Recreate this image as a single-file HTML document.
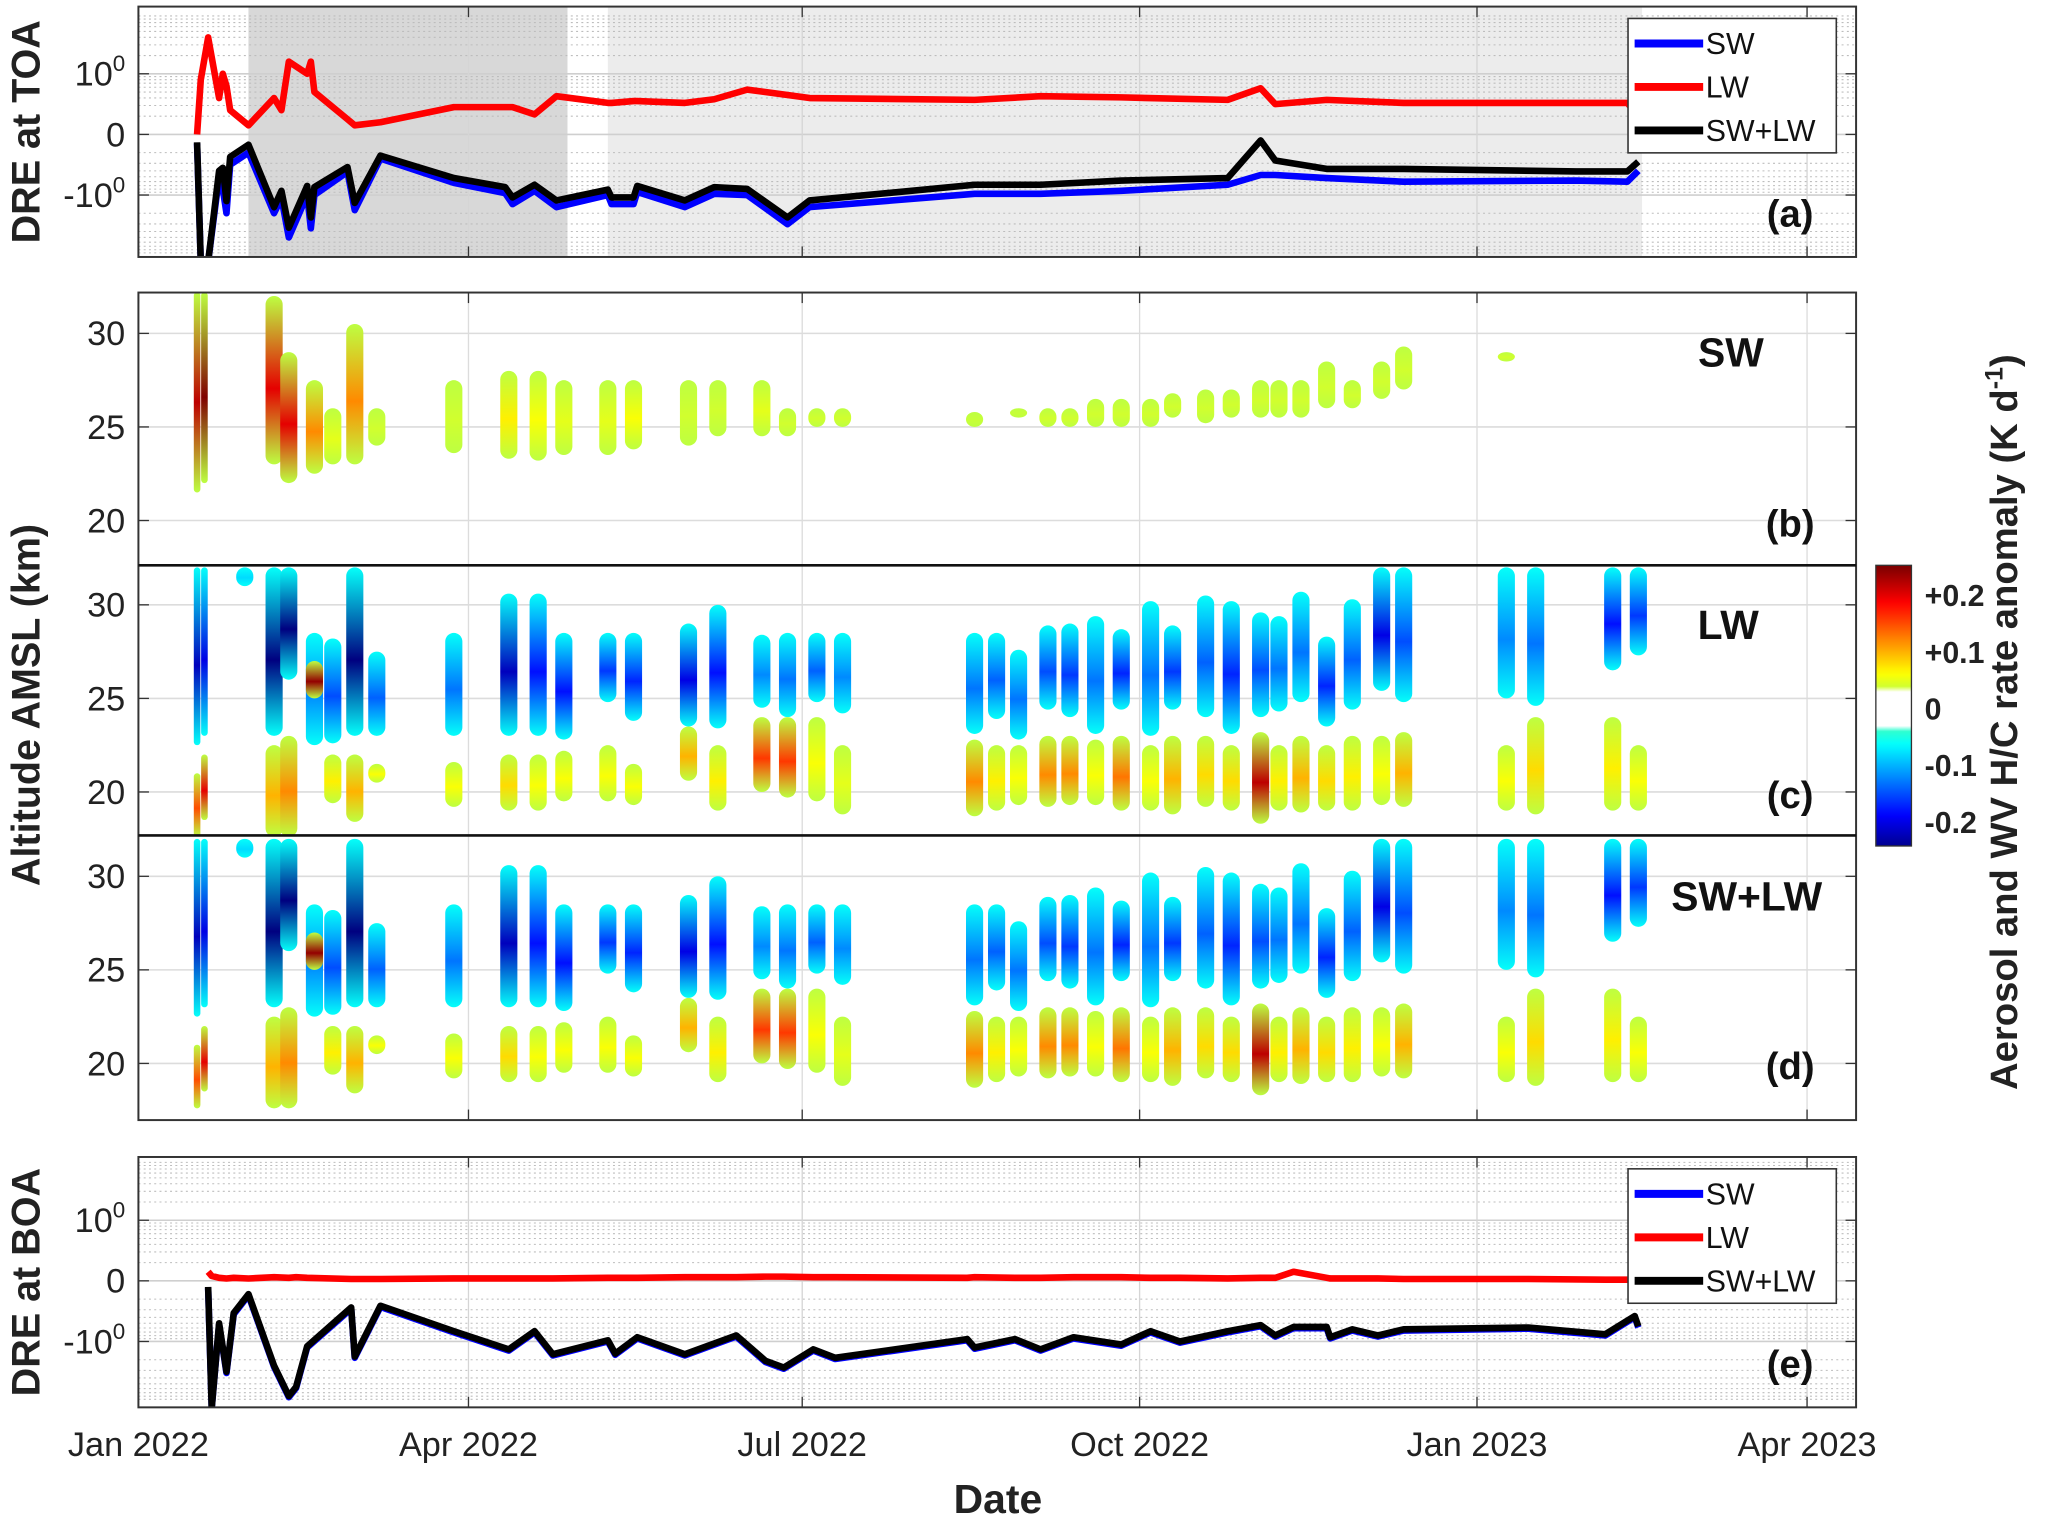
<!DOCTYPE html>
<html><head><meta charset="utf-8"><style>
html,body{margin:0;padding:0;background:#fff;}
svg{display:block;font-family:"Liberation Sans",Arial,sans-serif;}
</style></head><body>
<svg id="chart" width="2067" height="1522" viewBox="0 0 1568 1155" preserveAspectRatio="none" xmlns="http://www.w3.org/2000/svg">
<defs id="defs"></defs>
<g id="root"></g>
</svg>
<script>
// ---------- DATA ----------
const monthTickDays = [0, 90, 181, 273, 365, 455];
const monthTickLabels = ["Jan 2022","Apr 2022","Jul 2022","Oct 2022","Jan 2023","Apr 2023"];

const toaDays = [16,17,19,22,23,24,25,30,37,39,41,46,47,48,57,59,66,86,100,102,108,114,128,129,135,136,149,157,166,177,183,228,246,268,297,306,310,324,345,392,406,409];
const toaLW  = [0.0,0.9,1.6,0.6,1.0,0.8,0.4,0.15,0.6,0.4,1.2,1.0,1.2,0.7,0.25,0.15,0.2,0.45,0.45,0.45,0.33,0.63,0.52,0.52,0.55,0.55,0.52,0.58,0.74,0.65,0.6,0.57,0.63,0.61,0.57,0.76,0.5,0.57,0.52,0.52,0.52,0.3];
const toaNet = [-0.13,-2.1,-2.1,-0.6,-0.55,-1.1,-0.37,-0.17,-1.2,-0.93,-1.54,-0.85,-1.37,-0.87,-0.54,-1.13,-0.35,-0.72,-0.87,-1.04,-0.83,-1.09,-0.91,-1.04,-1.04,-0.85,-1.09,-0.87,-0.9,-1.37,-1.09,-0.83,-0.83,-0.76,-0.72,-0.1,-0.43,-0.57,-0.57,-0.61,-0.61,-0.45];
const toaSW  = [-0.15,-2.1,-2.1,-0.7,-0.9,-1.3,-0.5,-0.3,-1.3,-1.05,-1.7,-1.0,-1.55,-1.0,-0.62,-1.25,-0.4,-0.8,-0.97,-1.15,-0.93,-1.2,-1.0,-1.15,-1.15,-0.95,-1.2,-0.98,-1.0,-1.48,-1.2,-0.98,-0.98,-0.93,-0.83,-0.67,-0.67,-0.72,-0.78,-0.76,-0.78,-0.6];

const boaDays = [19,20,22,24,26,30,37,41,43,46,58,59,66,86,101,108,113,128,130,136,149,163,171,176,184,190,226,228,239,246,255,268,276,284,297,306,310,315,324,325,331,338,345,379,400,408,409];
const boaNet = [-0.1,-2.1,-0.7,-1.5,-0.53,-0.22,-1.4,-1.9,-1.75,-1.08,-0.44,-1.25,-0.41,-0.83,-1.13,-0.83,-1.21,-0.98,-1.2,-0.93,-1.21,-0.9,-1.32,-1.43,-1.13,-1.27,-0.96,-1.1,-0.96,-1.13,-0.93,-1.05,-0.83,-1.0,-0.83,-0.73,-0.9,-0.76,-0.76,-0.93,-0.8,-0.9,-0.8,-0.77,-0.88,-0.58,-0.75];
const boaSW  = [-0.12,-2.1,-0.72,-1.52,-0.55,-0.24,-1.42,-1.92,-1.77,-1.1,-0.46,-1.27,-0.43,-0.85,-1.15,-0.85,-1.23,-1.0,-1.22,-0.95,-1.23,-0.92,-1.34,-1.45,-1.15,-1.29,-0.98,-1.12,-0.98,-1.15,-0.95,-1.07,-0.85,-1.02,-0.85,-0.75,-0.92,-0.78,-0.78,-0.95,-0.82,-0.92,-0.82,-0.79,-0.9,-0.6,-0.77];
const boaLW  = [0.15,0.08,0.05,0.04,0.05,0.04,0.06,0.05,0.06,0.05,0.03,0.03,0.03,0.04,0.04,0.04,0.04,0.05,0.05,0.05,0.06,0.06,0.07,0.07,0.06,0.06,0.05,0.06,0.05,0.05,0.06,0.06,0.05,0.05,0.04,0.05,0.05,0.15,0.05,0.04,0.04,0.04,0.03,0.03,0.02,0.02,0.02];

const profDays = [16,18,29,37,41,48,53,59,65,86,101,109,116,128,135,150,158,170,177,185,192,228,234,240,248,254,261,268,276,282,291,298,306,311,317,324,331,339,345,373,381,402,409];
const upTop = [32,32,32,32,32,28.5,28.2,32,27.5,28.5,30.6,30.6,28.5,28.5,28.5,29,30,28.4,28.5,28.5,28.5,28.5,28.5,27.6,28.9,29,29.4,28.7,30.2,28.9,30.5,30.2,29.6,29.4,30.7,28.3,30.3,32,32,32,32,32,32];
const upBot = [22.5,23,31,23,26,22.5,22.6,23,23,23,23,23,22.8,24.8,23.8,23.5,23.4,24.5,24,24.8,24.2,23.1,23.9,22.8,24.4,24,23.1,24.4,23,24.4,24,23.1,24,24.3,24.8,23.5,24.4,25.4,24.8,25,24.6,26.5,27.3];
const upVal = [-0.22,-0.2,-0.08,-0.25,-0.25,-0.12,-0.15,-0.25,-0.14,-0.13,-0.22,-0.18,-0.18,-0.16,-0.17,-0.2,-0.18,-0.12,-0.13,-0.14,-0.12,-0.13,-0.14,-0.13,-0.15,-0.16,-0.13,-0.17,-0.13,-0.16,-0.14,-0.17,-0.15,-0.13,-0.13,-0.17,-0.14,-0.2,-0.15,-0.12,-0.13,-0.18,-0.16];
const loTop = [21,22,0,22.5,23,27,22,22,21.5,21.6,22,22,22.2,22.5,21.5,23.5,22.5,24,24,24,22.5,22.8,22.5,22.5,23,23,22.8,23,22.5,23,23,22.5,23.2,22.5,23,22.5,23,23,23.2,22.5,24,24,22.5];
const loBot = [17.6,18.5,0,17.6,17.6,25,19.4,18.4,20.5,19.2,19,19,19.5,19.5,19.3,20.6,19,20,19.7,19.5,18.8,18.7,19,19.3,19.2,19.3,19.3,19,19,18.8,19.2,19,18.3,19,18.9,19,19,19.3,19.2,19,18.8,19,19];
const loVal = [0.15,0.2,0,0.1,0.12,0.24,0.07,0.1,0.06,0.06,0.08,0.06,0.06,0.06,0.06,0.1,0.07,0.16,0.16,0.06,0.05,0.12,0.07,0.06,0.12,0.12,0.06,0.13,0.06,0.1,0.08,0.08,0.22,0.07,0.1,0.08,0.07,0.06,0.1,0.06,0.08,0.07,0.06];
const swTop = [32.2,32.2,0,32,29,27.5,26,30.5,26,27.5,28,28,27.5,27.5,27.5,27.5,27.5,27.5,26,26,26,25.8,0,26,26,26,26.5,26.5,26.5,26.8,27,27,27.5,27.5,27.5,28.5,27.5,28.5,29.3,29,0,0,0];
const swBot = [21.5,22,0,23,22,22.5,23,23,24,23.6,23.3,23.2,23.5,23.5,23.8,24,24.5,24.5,24.5,25,25,25,0,25.5,25,25,25,25,25,25.5,25.2,25.5,25.5,25.5,25.5,26,26,26.5,27,28.5,0,0,0];
const swVal = [0.22,0.25,0,0.2,0.2,0.12,0.05,0.12,0.04,0.04,0.07,0.06,0.05,0.05,0.06,0.04,0.04,0.05,0.04,0.04,0.04,0.035,0,0.035,0.04,0.04,0.04,0.04,0.04,0.04,0.04,0.04,0.04,0.04,0.04,0.04,0.04,0.04,0.04,0.04,0,0,0];

const cbTickVals = [0.2,0.1,0,-0.1,-0.2];
const cbTickLabels = ["+0.2","+0.1","0","-0.1","-0.2"];
const altTicks = [30,25,20];

// ---------- LAYOUT ----------
const NS = "http://www.w3.org/2000/svg";
const root = document.getElementById('root');
const defs = document.getElementById('defs');
const L = 105, R = 1408;
const X = d => L + d * 2.782;
function el(tag, attrs, parent, text){
  const e = document.createElementNS(NS, tag);
  for (const k in attrs) e.setAttribute(k, attrs[k]);
  if (text !== undefined) e.textContent = text;
  (parent || root).appendChild(e);
  return e;
}
function jet(v){
  let t = (v + 0.25) / 0.5; t = Math.max(0, Math.min(1, t));
  const c = x => Math.round(255 * Math.max(0, Math.min(1, x)));
  return `rgb(${c(1.5-Math.abs(4*t-3))},${c(1.5-Math.abs(4*t-2))},${c(1.5-Math.abs(4*t-1))})`;
}

// ---------- line panels ----------
function linePanel(name, top, bot, zeroY, days, series, label, ylab, shade){
  const unit = 46;
  const Y = v => zeroY - v * unit;
  const g = el('g', {});  
  const clipId = name + '-clip';
  const cp = el('clipPath', {id: clipId}, defs); el('rect', {x:L, y:top, width:R-L, height:bot-top}, cp);
  if (shade){
    const s1 = el('rect', {x:X(30), y:top, width:X(117)-X(30), height:bot-top, fill:'#d8d8d8'}, g);
     
    const s2 = el('rect', {x:X(128), y:top, width:X(410)-X(128), height:bot-top, fill:'#ececec'}, g);
     
  }
  const minors = [];
  for (let k = 2; k <= 9; k++){ minors.push(Math.log10(k)); minors.push(1 + Math.log10(k)); }
  minors.forEach(m => [m, -m].forEach(v => {
    const y = Y(v); if (y > top && y < bot)
      el('line', {x1:L, x2:R, y1:y, y2:y, stroke:'#bdbdbd', 'stroke-width':0.8, 'stroke-dasharray':'1.5 2.5'}, g);
  }));
  [1,0,-1].forEach(v => el('line', {x1:L, x2:R, y1:Y(v), y2:Y(v), stroke:'#cfcfcf', 'stroke-width':1.2}, g));
  monthTickDays.forEach(d => { if (X(d) > L+1 && X(d) < R) el('line', {x1:X(d), x2:X(d), y1:top, y2:bot, stroke:'#d5d5d5', 'stroke-width':1}, g); });
  const lg = el('g', {'clip-path': `url(#${clipId})`}, g);
  series.forEach(s => {
    const pts = days.map((d,i) => `${X(d).toFixed(1)},${Y(s.vals[i]).toFixed(1)}`).join(' ');
    const p = el('polyline', {points: pts, fill:'none', stroke:s.color, 'stroke-width':5, 'stroke-linejoin':'round'}, lg);
    
    
  });
  el('rect', {x:L, y:top, width:R-L, height:bot-top, fill:'none', stroke:'#333', 'stroke-width':1.5}, g);
  monthTickDays.forEach(d => { const x = X(d); if (x < R){
    el('line', {x1:x, x2:x, y1:bot, y2:bot-8, stroke:'#333'}, g);
    el('line', {x1:x, x2:x, y1:top, y2:top+8, stroke:'#333'}, g); }});
  [[1,'10','0'],[0,'0',null],[-1,'-10','0']].forEach(([v,b,sup]) => {
    const t = el('text', {x:95, y:Y(v)+9, 'text-anchor':'end', 'font-size':26, fill:'#222'}, g);
    el('tspan', {}, t, b);
    if (sup) el('tspan', {dy:-11, 'font-size':17}, t, sup);
     
    el('line', {x1:L, x2:L+8, y1:Y(v), y2:Y(v), stroke:'#333'}, g);
    el('line', {x1:R, x2:R-8, y1:Y(v), y2:Y(v), stroke:'#333'}, g);
  });
  const yt = el('text', {x:0, y:0, transform:`translate(30,${(top+bot)/2}) rotate(-90)`, 'text-anchor':'middle', 'font-size':30, 'font-weight':'bold', fill:'#222'}, g, ylab);
   
  const pl = el('text', {x:1358, y:bot-23, 'text-anchor':'middle', 'font-size':29, 'font-weight':'bold', fill:'#111'}, g, label);
   
  const lgY = top + 9;
  const leg = el('g', {}, g);  
  el('rect', {x:1235, y:lgY, width:158, height:102, fill:'#fff', stroke:'#333', 'stroke-width':1.2}, leg);
  [['SW','#0000ff'],['LW','#ff0000'],['SW+LW','#000']].forEach(([t,c],i) => {
    const yy = lgY + 19 + i*33;
    const e = el('g', {}, leg);  
    el('line', {x1:1240, x2:1292, y1:yy, y2:yy, stroke:c, 'stroke-width':6}, e);
    el('text', {x:1294, y:yy+8, 'font-size':23, fill:'#111'}, e, t);
  });
}

linePanel('toa', 5, 195, 102, toaDays, [
  {key:'sw', color:'#0000ff', vals:toaSW},
  {key:'net', color:'#000', vals:toaNet},
  {key:'lw', color:'#ff0000', vals:toaLW}], '(a)', 'DRE at TOA', true);
linePanel('boa', 878, 1068, 972, boaDays, [
  {key:'sw', color:'#0000ff', vals:boaSW},
  {key:'net', color:'#000', vals:boaNet},
  {key:'lw', color:'#ff0000', vals:boaLW}], '(e)', 'DRE at BOA', false);

// ---------- heatmap panels ----------
let gid = 0;
function bandRect(g, day, top, bot, val, Yk, w){
  if (!val || top <= bot) return;
  const id = 'gr' + (gid++);
  const lgd = el('linearGradient', {id, x1:0, y1:0, x2:0, y2:1}, defs);
  const edge = val > 0 ? 0.03 : -0.06;
  const mid = val > 0 ? Math.max(val, 0.03) : val;
  el('stop', {offset:'0', 'stop-color':jet(edge)}, lgd);
  el('stop', {offset:'0.55', 'stop-color':jet(mid)}, lgd);
  el('stop', {offset:'1', 'stop-color':jet(edge)}, lgd);
  const r = el('rect', {x:X(day)-w/2, y:Yk(top), width:w, height:Yk(bot)-Yk(top), rx:w/2, ry:w/2, fill:`url(#${id})`}, g);
  
  
}
function heatPanel(name, top, bot, y30, label, mode){
  const Yk = km => y30 - (km - 30) * 14.2;
  const g = el('g', {});  
  const clipId = name + '-clip';
  const cp = el('clipPath', {id: clipId}, defs); el('rect', {x:L, y:top, width:R-L, height:bot-top}, cp);
  altTicks.forEach(k => el('line', {x1:L, x2:R, y1:Yk(k), y2:Yk(k), stroke:'#dcdcdc', 'stroke-width':1.2}, g));
  monthTickDays.forEach(d => { if (X(d) > L+1 && X(d) < R) el('line', {x1:X(d), x2:X(d), y1:top, y2:bot, stroke:'#dcdcdc', 'stroke-width':1}, g); });
  const hg = el('g', {'clip-path': `url(#${clipId})`}, g);
  profDays.forEach((d,i) => {
    const w = i < 2 ? 5 : 13;
    if (mode === 'sw') bandRect(hg, d, swTop[i], swBot[i], swVal[i], Yk, w);
    else {
      bandRect(hg, d, upTop[i], upBot[i], upVal[i], Yk, w);
      bandRect(hg, d, loTop[i], loBot[i], loVal[i], Yk, w);
    }
  });
  altTicks.forEach(k => {
    const t = el('text', {x:95, y:Yk(k)+9, 'text-anchor':'end', 'font-size':26, fill:'#222'}, g, String(k));
     
    el('line', {x1:L, x2:L+8, y1:Yk(k), y2:Yk(k), stroke:'#333'}, g);
    el('line', {x1:R, x2:R-8, y1:Yk(k), y2:Yk(k), stroke:'#333'}, g);
  });
  const pl = el('text', {x:1358, y:Yk(20)+12, 'text-anchor':'middle', 'font-size':29, 'font-weight':'bold', fill:'#111'}, g, label);
   
}
heatPanel('sw-heating', 222, 429, 253, '(b)', 'sw');
heatPanel('lw-heating', 429, 634, 459, '(c)', 'lw');
heatPanel('net-heating', 634, 850, 665, '(d)', 'lw');

[['SW',1313,278],['LW',1311,485],['SW+LW',1325,691]].forEach(([t,x,y]) => {
  const e = el('text', {x, y, 'text-anchor':'middle', 'font-size':31, 'font-weight':'bold', fill:'#111'}, root, t);
  
  
});
el('rect', {x:L, y:222, width:R-L, height:628, fill:'none', stroke:'#333', 'stroke-width':1.5});
el('line', {x1:L, x2:R, y1:429, y2:429, stroke:'#111', 'stroke-width':2});
el('line', {x1:L, x2:R, y1:634, y2:634, stroke:'#111', 'stroke-width':2});
monthTickDays.forEach(d => { const x = X(d); if (x < R){
  el('line', {x1:x, x2:x, y1:850, y2:842, stroke:'#333'}); el('line', {x1:x, x2:x, y1:222, y2:230, stroke:'#333'}); }});
const alt = el('text', {transform:'translate(30,535) rotate(-90)', 'text-anchor':'middle', 'font-size':30, 'font-weight':'bold', fill:'#222'}, root, 'Altitude AMSL (km)');
 

monthTickDays.forEach((d,i) => {
  const t = el('text', {x:X(d), y:1105, 'text-anchor':'middle', 'font-size':26, fill:'#222'}, root, monthTickLabels[i]);
   
});
const dt = el('text', {x:757, y:1148, 'text-anchor':'middle', 'font-size':31, 'font-weight':'bold', fill:'#222'}, root, 'Date');
 

// colorbar
const cbTop = 429, cbBot = 642, cbX = 1423, cbW = 27;
const CBY = v => 538 - v * 430;
const cbg = el('linearGradient', {id:'cbgrad', x1:0, y1:0, x2:0, y2:1}, defs);
for (let k = 0; k <= 50; k++){
  const v = 0.25 - k * 0.01;
  const col = Math.abs(v) < 0.035 ? '#ffffff' : jet(v);
  el('stop', {offset:((CBY(v)-cbTop)/(cbBot-cbTop)).toFixed(3), 'stop-color':col}, cbg);
}
const cb = el('rect', {x:cbX, y:cbTop, width:cbW, height:cbBot-cbTop, fill:'url(#cbgrad)', stroke:'#333', 'stroke-width':1});
 
cbTickVals.forEach((v,i) => {
  const t = el('text', {x:1460, y:CBY(v)+8, 'font-size':23, 'font-weight':'bold', fill:'#222'}, root, cbTickLabels[i]);
   
});
const cbt = el('text', {transform:'translate(1530,548) rotate(-90)', 'text-anchor':'middle', 'font-size':29, 'font-weight':'bold', fill:'#222'}, root);
el('tspan', {}, cbt, 'Aerosol and WV H/C rate anomaly (K d');
el('tspan', {dy:-11, 'font-size':19}, cbt, '-1');
el('tspan', {dy:11}, cbt, ')');
 
</script>
</body></html>
